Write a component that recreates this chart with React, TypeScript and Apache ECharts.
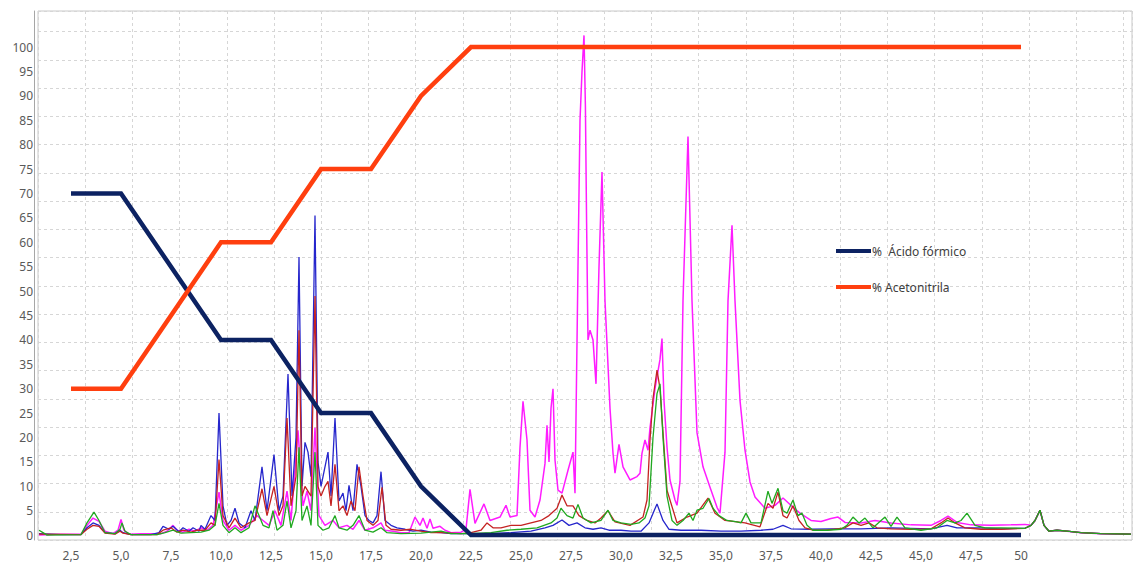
import React, { useEffect, useRef } from "react";
import * as echarts from "echarts";

// Gradient program (time in min, %)
const gradTime = [2.5, 5, 10, 12.5, 15, 17.5, 20, 22.5, 50];
const acidoFormico = [70, 70, 40, 40, 25, 25, 10, 0, 0];
const acetonitrila = [30, 30, 60, 60, 75, 75, 90, 100, 100];

const xTickLabels = [2.5, 5, 7.5, 10, 12.5, 15, 17.5, 20, 22.5, 25, 27.5, 30, 32.5, 35, 37.5, 40, 42.5, 45, 47.5, 50];
const yTickLabels = [0, 5, 10, 15, 20, 25, 30, 35, 40, 45, 50, 55, 60, 65, 70, 75, 80, 85, 90, 95, 100];

// Shared tail of all chromatograms after 50 min
const tailTrace = [[50.5, 2], [50.7, 3], [50.95, 5.1], [51.15, 2], [51.4, 0.8], [51.8, 1], [52.3, 0.8], [53, 0.5], [54, 0.3], [55.5, 0.2]];

const magentaTrace = [
  [0.9, 0], [2.0, 0.2], [3.0, 0.2], [3.3, 2], [3.6, 3.5], [3.9, 2.8], [4.2, 0.8], [4.6, 0.3], [4.85, 1], [5.0, 3.2], [5.15, 1], [5.4, 0.2],
  [6.0, 0.3], [7.0, 0.3], [7.3, 0.8], [7.6, 2], [7.8, 1], [8.1, 0.6], [8.4, 1.2], [8.7, 0.8], [9.0, 1.5], [9.3, 1], [9.6, 2], [9.9, 8.8],
  [10.1, 3], [10.4, 1], [10.7, 2], [11.0, 1], [11.4, 2], [11.8, 4], [12.1, 3], [12.4, 2], [12.7, 5], [13.0, 2], [13.3, 9], [13.5, 3],
  [13.85, 21.5], [14.1, 6], [14.3, 9], [14.5, 5], [14.7, 22], [14.9, 4], [15.2, 2], [15.6, 3], [15.9, 1.5], [16.3, 2], [16.6, 1.2],
  [16.9, 3], [17.2, 1], [17.6, 1.5], [18.0, 2.5], [18.2, 1], [18.6, 0.8], [19.0, 0.5], [19.4, 0.5], [19.7, 3.7], [19.95, 2], [20.1, 3.5],
  [20.3, 1.4], [20.45, 3.3], [20.6, 1.4], [20.95, 1.8], [21.2, 1], [21.5, 0.5], [22.0, 0.6], [22.25, 1.2], [22.45, 9.4], [22.7, 2.4],
  [23.15, 6.4], [23.45, 3], [23.95, 3.7], [24.25, 6.1], [24.45, 3.7], [24.8, 4], [24.95, 18], [25.1, 27.4], [25.3, 19.5], [25.45, 5.1],
  [25.7, 3.7], [25.95, 7.2], [26.2, 14.7], [26.3, 22.5], [26.4, 15], [26.5, 26], [26.6, 30], [26.7, 15.4], [26.85, 9.2], [27.05, 8.6],
  [27.35, 13.3], [27.6, 17], [27.7, 8.6], [27.85, 55], [27.95, 85], [28.05, 95], [28.15, 102.4], [28.22, 88], [28.28, 64], [28.35, 40],
  [28.45, 42], [28.6, 40], [28.75, 31], [28.9, 55], [29.05, 74.4], [29.2, 48], [29.45, 26], [29.6, 16.8], [29.7, 12.7], [29.9, 18.6],
  [30.1, 14], [30.45, 11.3], [30.8, 12], [30.95, 12.7], [31.05, 16.8], [31.2, 19.5], [31.35, 17.4], [31.45, 22], [31.7, 30], [31.95, 36],
  [32.05, 40.3], [32.15, 27.6], [32.3, 18], [32.45, 11.3], [32.7, 7.2], [32.8, 6.1], [32.95, 11], [33.1, 48], [33.35, 81.7], [33.55, 48],
  [33.8, 21], [34.1, 14], [34.45, 9.8], [34.8, 5.7], [34.95, 4.5], [35.2, 17], [35.35, 48], [35.55, 63.5], [35.7, 48], [35.95, 27.6],
  [36.2, 17.4], [36.45, 10.9], [36.7, 7.8], [37.2, 5.5], [37.7, 6.1], [38.1, 7.6], [38.6, 5.7], [38.95, 4.5], [39.5, 3], [40.0, 2.8],
  [40.5, 3.4], [40.85, 3.7], [41.2, 2.6], [42.0, 2.5], [42.7, 3], [43.5, 2.5], [44.5, 2.1], [45.5, 2], [46.0, 3], [46.35, 3.9], [46.8, 2.6],
  [47.5, 2.1], [48.5, 2], [49.5, 2.1], [50.2, 2.2], ...tailTrace,
];

const blueTrace = [
  [0.9, 0.3], [2, 0.1], [3, 0.1], [3.3, 1.5], [3.6, 2.5], [3.9, 2], [4.2, 0.5], [4.7, 0.3], [4.95, 1], [5.1, 0.5], [5.5, 0.1], [6.5, 0.1],
  [6.9, 0.5], [7.1, 1.8], [7.4, 1.2], [7.6, 1.8], [7.9, 0.7], [8.1, 1.5], [8.4, 0.8], [8.6, 1.5], [8.9, 0.8], [9.0, 2], [9.2, 1.2], [9.5, 4],
  [9.7, 3], [9.9, 25], [10.1, 6], [10.3, 2], [10.5, 3], [10.7, 5.5], [10.9, 2.5], [11.2, 1.5], [11.5, 5], [11.7, 3], [12.05, 14], [12.3, 5],
  [12.65, 16.5], [12.9, 5], [13.1, 8], [13.35, 33], [13.55, 8], [13.75, 20], [13.9, 57], [14.05, 10], [14.2, 19], [14.35, 17], [14.5, 12],
  [14.7, 65.5], [14.85, 15], [15.0, 10], [15.1, 12], [15.35, 17], [15.5, 8], [15.7, 24], [15.9, 7], [16.1, 8.6], [16.25, 5], [16.4, 10.2],
  [16.6, 5], [16.8, 14.5], [17.0, 10], [17.2, 4], [17.4, 3], [17.6, 2.5], [17.8, 4], [18.0, 13], [18.2, 3], [18.5, 2], [18.8, 1.5], [19.2, 1.2],
  [19.6, 0.8], [20, 1], [20.5, 0.6], [21, 0.5], [21.5, 0.3], [22, 0.3], [22.5, 0.3], [23.5, 0.3], [24.5, 0.5], [25.5, 0.8], [26.2, 1.5],
  [26.6, 2], [27.05, 3.1], [27.4, 2], [27.8, 2.5], [28.2, 1.5], [28.6, 1.2], [29.0, 1.5], [29.4, 1], [30, 1], [30.5, 0.8], [31.0, 0.8],
  [31.4, 2.5], [31.8, 6.4], [32.1, 3], [32.4, 1.2], [33, 1], [34, 1], [35, 0.8], [36, 0.8], [37, 1], [37.6, 1.2], [38.1, 2], [38.5, 1.3],
  [39.5, 1.2], [40.5, 1.3], [42, 1.3], [43.5, 1.5], [45.5, 1.3], [46.3, 2], [46.8, 1.5], [48, 1.5], [49, 1.3], [50.2, 1.4], ...tailTrace,
];

const redTrace = [
  [0.9, 0.2], [3, 0.1], [3.3, 1.2], [3.6, 2], [3.9, 1.8], [4.2, 0.4], [4.7, 0.2], [4.95, 0.8], [5.1, 0.4], [5.5, 0.1], [6.8, 0.1], [7.1, 1],
  [7.5, 1.5], [7.8, 0.6], [8.1, 1], [8.5, 0.6], [8.8, 1], [9.2, 1], [9.5, 2.5], [9.7, 2], [9.9, 15.5], [10.1, 4], [10.4, 1.5], [10.7, 3.5],
  [11.0, 1.5], [11.4, 2.5], [11.7, 3], [12.05, 9.5], [12.3, 4], [12.65, 10], [12.9, 4], [13.1, 6], [13.3, 24], [13.5, 6], [13.75, 12],
  [13.9, 42], [14.05, 8], [14.2, 10], [14.5, 8], [14.7, 49], [14.85, 10], [15.0, 8], [15.2, 10], [15.35, 11], [15.5, 6], [15.7, 14.5],
  [15.9, 5], [16.1, 6], [16.3, 4], [16.5, 7], [16.7, 5], [16.9, 14], [17.1, 8], [17.3, 3], [17.6, 2], [17.85, 3], [18.05, 9.8], [18.25, 2],
  [18.5, 1.2], [19, 1], [19.5, 1.2], [20, 0.8], [20.5, 0.5], [21, 0.5], [22, 0.3], [22.5, 0.5], [23, 1], [23.3, 2.5], [23.6, 1.5], [24, 1.5],
  [24.5, 2], [25, 2], [25.5, 2.5], [26, 3], [26.4, 4], [26.8, 5.5], [27.05, 8.2], [27.3, 6], [27.6, 6], [27.9, 4], [28.3, 3], [28.7, 2.5],
  [29.0, 3.5], [29.35, 5], [29.7, 2.7], [30.45, 2], [31.1, 3.7], [31.3, 7.2], [31.45, 19.5], [31.6, 28], [31.8, 33.8], [31.95, 30],
  [32.1, 21], [32.3, 9.2], [32.8, 2.5], [33.3, 3.7], [33.8, 4.5], [34.35, 7.6], [34.7, 4.5], [35.2, 3], [36.2, 2.5], [36.95, 1.7],
  [37.35, 6.5], [37.6, 5.5], [37.85, 8.8], [38.1, 4], [38.3, 3.5], [38.6, 6], [38.9, 3], [39.2, 1.5], [39.6, 1], [40.2, 1], [40.8, 1.3],
  [41.2, 1.5], [41.6, 2.5], [42.0, 2], [42.4, 2.5], [42.8, 1.5], [43.5, 1.3], [44.5, 1.2], [45.5, 1.3], [46.0, 2.5], [46.35, 3.5],
  [46.7, 2.5], [47.2, 1.5], [48, 1.2], [49, 1.2], [50.2, 1.4], ...tailTrace,
];

const greenTrace = [
  [0.9, 1], [1.1, 0.5], [1.3, 0], [3, 0.1], [3.3, 2.5], [3.65, 4.7], [3.9, 3], [4.2, 0.5], [4.7, 0.3], [4.95, 1.2], [5.05, 2.5], [5.2, 0.8],
  [5.5, 0.1], [6.8, 0.1], [7.2, 0.5], [7.6, 1], [8, 0.4], [8.5, 0.5], [9, 0.6], [9.4, 1], [9.7, 2], [9.9, 6.5], [10.1, 2], [10.4, 0.5],
  [10.7, 1.5], [11.0, 0.5], [11.4, 1.5], [11.7, 6], [11.9, 4], [12.1, 2], [12.4, 1.5], [12.6, 5], [12.8, 1], [13.1, 2], [13.3, 7],
  [13.5, 1.5], [13.75, 5], [13.9, 18], [14.05, 3], [14.3, 6], [14.5, 2], [14.7, 17], [14.85, 2], [15.1, 1], [15.4, 1.5], [15.7, 4],
  [15.9, 1.5], [16.3, 1], [16.6, 2], [16.9, 4], [17.2, 1], [17.6, 0.6], [18.0, 1.5], [18.3, 0.5], [19, 0.3], [20, 0.4], [21, 0.8],
  [21.5, 0.3], [22.5, 0.3], [23.5, 0.5], [24.3, 1], [25.0, 1.2], [25.8, 1.5], [26.5, 2.5], [26.8, 3.5], [27.0, 5.5], [27.3, 4], [27.6, 3.5],
  [27.85, 6.3], [28.1, 3.5], [28.5, 2.5], [29.0, 3], [29.35, 5.1], [29.6, 3], [30, 2.5], [30.5, 2.2], [30.9, 2.5], [31.2, 3.5], [31.4, 6],
  [31.6, 20], [31.8, 29], [31.95, 31], [32.1, 20], [32.3, 8], [32.55, 3], [32.8, 2], [33.1, 3], [33.4, 4.5], [33.6, 3], [33.8, 5.1],
  [34.1, 5.5], [34.4, 7.5], [34.6, 5.5], [34.9, 4], [35.3, 3], [35.8, 2.7], [36.0, 2.5], [36.25, 4.5], [36.5, 2.5], [37.0, 2.5],
  [37.35, 9], [37.55, 6.5], [37.85, 9.6], [38.1, 5], [38.3, 4.5], [38.6, 7.2], [38.85, 4], [39.05, 4.5], [39.3, 2], [39.6, 1], [40.3, 1],
  [41, 1.2], [41.3, 2], [41.6, 3.7], [41.9, 2.5], [42.2, 3.5], [42.6, 1.5], [43.2, 3.7], [43.5, 1.8], [43.8, 3.7], [44.2, 1.5], [45, 1],
  [45.8, 1.5], [46.3, 3], [46.7, 2.5], [47.0, 3], [47.3, 4.5], [47.7, 2], [48.2, 1.5], [49, 1.5], [50.2, 1.4], ...tailTrace,
];

function fmtX(v: number): string {
  if (v === 50) return "50";
  return v.toFixed(1).replace(".", ",");
}

export default function App() {
  const ref = useRef<HTMLDivElement>(null);

  useEffect(() => {
    if (!ref.current) return;
    const chart = echarts.init(ref.current, undefined, { renderer: "svg" });
    const trace = (name: string, data: number[][], color: string, width: number) => ({
      name,
      type: "line",
      xAxisIndex: 0,
      yAxisIndex: 0,
      data,
      symbol: "none",
      lineStyle: { color, width },
      itemStyle: { color },
      z: 2,
      silent: true,
    });
    chart.setOption({
      animation: false,
      backgroundColor: "#ffffff",
      textStyle: { fontFamily: "Noto Sans" },
      grid: {
        left: 38,
        top: 11,
        right: 3,
        bottom: 22,
        show: true,
        borderColor: "#c8c8c8",
        borderWidth: 1,
        backgroundColor: "transparent",
      },
      legend: {
        data: ["%  Ácido fórmico", "% Acetonitrila"],
        orient: "vertical",
        left: 831,
        top: 239,
        icon: "rect",
        itemWidth: 35,
        itemHeight: 4,
        itemGap: 22,
        textStyle: { fontSize: 12, color: "#404040", lineHeight: 14, padding: [0, 0, 0, -4] },
      },
      xAxis: [
        {
          type: "value",
          min: 0.85,
          max: 55.55,
          axisLine: { show: false },
          axisTick: { show: false },
          splitLine: { show: false },
          axisLabel: {
            customValues: xTickLabels,
            formatter: (v: number) => fmtX(v),
            color: "#595959",
            fontSize: 12,
            margin: 9,
          },
        },
        {
          type: "value",
          min: 0,
          max: 23.18,
          interval: 1,
          axisLine: { show: false },
          axisTick: { show: false },
          axisLabel: { show: false },
          splitLine: { show: true, lineStyle: { color: "#d6d6d6", type: [3, 3], width: 1 } },
        },
      ],
      yAxis: [
        {
          type: "value",
          min: -1.0,
          max: 107.4,
          axisLine: { show: true, onZero: false, lineStyle: { color: "#a6a6a6", width: 1 } },
          offset: 4,
          axisTick: { show: false },
          splitLine: { show: false },
          axisLabel: {
            customValues: yTickLabels,
            color: "#595959",
            fontSize: 12,
            margin: 1,
          },
        },
        {
          type: "value",
          min: 0,
          max: 18.73,
          interval: 1,
          axisLine: { show: false },
          axisTick: { show: false },
          axisLabel: { show: false },
          splitLine: { show: true, lineStyle: { color: "#d6d6d6", type: [3, 3], width: 1 } },
        },
      ],
      series: [
        trace("magenta", magentaTrace, "#ff1cff", 1.5),
        trace("blue", blueTrace, "#2626cc", 1.3),
        trace("red", redTrace, "#c42222", 1.3),
        trace("green", greenTrace, "#20a820", 1.3),
        {
          name: "%  Ácido fórmico",
          type: "line",
          data: gradTime.map((t, i) => [t, acidoFormico[i]]),
          symbol: "none",
          lineStyle: { color: "#0c2262", width: 4.5, join: "miter" },
          itemStyle: { color: "#0c2262" },
          z: 5,
        },
        {
          name: "% Acetonitrila",
          type: "line",
          data: gradTime.map((t, i) => [t, acetonitrila[i]]),
          symbol: "none",
          lineStyle: { color: "#ff3f0f", width: 4.5, join: "miter" },
          itemStyle: { color: "#ff3f0f" },
          z: 5,
        },
      ],
    });
    return () => chart.dispose();
  }, []);

  return (
    <div
      ref={ref}
      style={{ position: "fixed", left: 0, top: 0, width: 1135, height: 562, background: "#fff" }}
    />
  );
}
